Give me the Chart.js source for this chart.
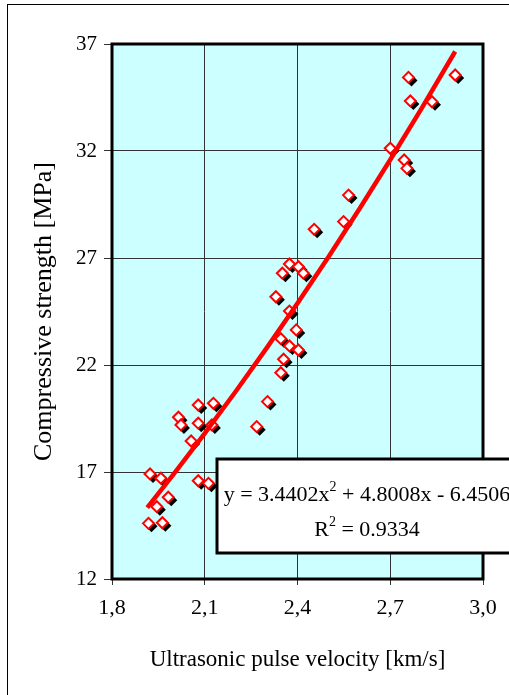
<!DOCTYPE html>
<html>
<head>
<meta charset="utf-8">
<script src="https://cdn.jsdelivr.net/npm/chart.js@4.4.0/dist/chart.umd.min.js"></script>
<style>
  html, body { margin: 0; padding: 0; background: #fff; }
  canvas { display: block; }
</style>
</head>
<body>
<canvas id="pulseChart" width="509" height="695"></canvas>
<script>
// measured samples: ultrasonic pulse velocity [km/s] / compressive strength [MPa]
const velocity = [
  2.374, 2.403, 2.419, 2.351, 2.330, 2.374, 2.396, 2.346, 2.374, 2.403, 2.355, 2.346,
  2.079, 2.128, 2.015, 2.023, 2.079, 2.123, 2.056, 1.923, 1.958, 2.079, 2.112, 1.982,
  1.945, 1.918, 1.963, 2.303, 2.268, 2.565, 2.549, 2.454, 2.759, 2.910, 2.765, 2.835,
  2.700, 2.745, 2.754
];
const strength = [
  26.72, 26.59, 26.29, 26.29, 25.19, 24.52, 23.64, 23.23, 22.89, 22.70, 22.27, 21.64,
  20.13, 20.21, 19.56, 19.20, 19.28, 19.20, 18.45, 16.91, 16.71, 16.59, 16.47, 15.82,
  15.38, 14.60, 14.63, 20.29, 19.12, 29.94, 28.70, 28.34, 35.44, 35.55, 34.34, 34.30,
  32.13, 31.58, 31.19
];

// polynomial trend line
const trendVelocity = [1.914, 2.0, 2.1, 2.2, 2.3, 2.4, 2.5, 2.6, 2.7, 2.8, 2.91];
const trendStrength = [15.34, 16.91, 18.80, 20.76, 22.79, 24.89, 27.05, 29.29, 31.59, 33.96, 36.65];

const xTicks = [1.8, 2.1, 2.4, 2.7, 3.0];
const yTicks = [12, 17, 22, 27, 32, 37];

const eqMain = 'y = 3.4402x';
const eqTail = ' + 4.8008x - 6.4506';
const r2Label = 'R';
const r2Tail = ' = 0.9334';

const serif = '"Liberation Serif", "Times New Roman", serif';

const scatterPoints = velocity.map((v, i) => ({ x: v, y: strength[i] }));
const trendPoints = trendVelocity.map((v, i) => ({ x: v, y: trendStrength[i] }));

// fond cyan de la zone de tracé + cadre extérieur
const plotBackground = {
  id: 'plotBackground',
  beforeDraw(chart) {
    const { ctx, chartArea } = chart;
    ctx.save();
    ctx.fillStyle = '#CCFFFF';
    ctx.fillRect(chartArea.left, chartArea.top, chartArea.right - chartArea.left, chartArea.bottom - chartArea.top);
    ctx.strokeStyle = '#000';
    ctx.lineWidth = 1;
    ctx.strokeRect(7.5, 4.5, 700, 900);
    ctx.restore();
  }
};

// ombre noire décalée sous chaque losange
const markerShadow = {
  id: 'markerShadow',
  beforeDatasetDraw(chart, args) {
    if (args.index !== 0) return;
    const ctx = chart.ctx;
    const r = 6;
    ctx.save();
    ctx.fillStyle = '#000';
    args.meta.data.forEach(pt => {
      const cx = pt.x + 3, cy = pt.y + 3;
      ctx.beginPath();
      ctx.moveTo(cx, cy - r);
      ctx.lineTo(cx + r, cy);
      ctx.lineTo(cx, cy + r);
      ctx.lineTo(cx - r, cy);
      ctx.closePath();
      ctx.fill();
    });
    ctx.restore();
  }
};

// cadre épais + boîte de l'équation
const frameAndEquation = {
  id: 'frameAndEquation',
  afterDraw(chart) {
    const { ctx, chartArea } = chart;
    ctx.save();
    ctx.strokeStyle = '#000';
    ctx.lineWidth = 3;
    ctx.strokeRect(chartArea.left, chartArea.top, chartArea.right - chartArea.left, chartArea.bottom - chartArea.top);

    const bx = chartArea.left + 105, by = chartArea.top + 415, bw = 300, bh = 94;
    ctx.fillStyle = '#fff';
    ctx.fillRect(bx, by, bw, bh);
    ctx.strokeRect(bx, by, bw, bh);

    const cx = bx + bw / 2;
    const big = '22px ' + serif, small = '14px ' + serif;
    ctx.fillStyle = '#000';
    ctx.textBaseline = 'alphabetic';
    ctx.textAlign = 'left';

    ctx.font = big;
    const w1 = ctx.measureText(eqMain).width, w3 = ctx.measureText(eqTail).width;
    ctx.font = small;
    const w2 = ctx.measureText('2').width;
    let x = cx - (w1 + w2 + w3) / 2;
    const y1 = by + 42;
    ctx.font = big; ctx.fillText(eqMain, x, y1); x += w1;
    ctx.font = small; ctx.fillText('2', x, y1 - 10); x += w2;
    ctx.font = big; ctx.fillText(eqTail, x, y1);

    ctx.font = big;
    const r1 = ctx.measureText(r2Label).width, r3 = ctx.measureText(r2Tail).width;
    x = cx - (r1 + w2 + r3) / 2;
    const y2 = by + 77;
    ctx.fillText(r2Label, x, y2); x += r1;
    ctx.font = small; ctx.fillText('2', x, y2 - 10); x += w2;
    ctx.font = big; ctx.fillText(r2Tail, x, y2);
    ctx.restore();
  }
};

new Chart(document.getElementById('pulseChart').getContext('2d'), {
  type: 'scatter',
  data: {
    datasets: [{
      label: 'Samples',
      data: scatterPoints,
      pointStyle: 'rectRot',
      pointRadius: 5.5,
      pointHoverRadius: 5.5,
      pointBackgroundColor: '#fff',
      pointBorderColor: '#FF0000',
      pointBorderWidth: 2,
      order: 2
    }, {
      type: 'line',
      label: 'Trend',
      data: trendPoints,
      borderColor: '#FF0000',
      borderWidth: 4.5,
      pointRadius: 0,
      tension: 0,
      fill: false,
      order: 1
    }]
  },
  options: {
    responsive: false,
    animation: false,
    layout: { padding: { top: 44, right: 26, left: 0, bottom: 0 } },
    plugins: { legend: { display: false }, tooltip: { enabled: false } },
    scales: {
      x: {
        type: 'linear',
        min: 1.8, max: 3.0,
        afterBuildTicks: s => { s.ticks = xTicks.map(v => ({ value: v })); },
        afterFit: s => { s.height = 116; },
        border: { display: false },
        grid: { color: '#333', lineWidth: 1, tickLength: 6 },
        ticks: {
          color: '#000', padding: 10,
          font: { family: serif, size: 22 },
          maxRotation: 0,
          callback: v => v.toFixed(1).replace('.', ',')
        },
        title: {
          display: true, text: 'Ultrasonic pulse velocity [km/s]',
          color: '#000', font: { family: serif, size: 23 },
          padding: { top: 0, bottom: 21 }
        }
      },
      y: {
        type: 'linear',
        min: 12, max: 37,
        afterBuildTicks: s => { s.ticks = yTicks.map(v => ({ value: v })); },
        afterFit: s => { s.width = 112; },
        border: { display: false },
        grid: { color: '#333', lineWidth: 1, tickLength: 8 },
        ticks: {
          color: '#000', padding: 7,
          font: { family: serif, size: 21 }
        },
        title: {
          display: true, text: 'Compressive strength [MPa]',
          color: '#000', font: { family: serif, size: 26 },
          padding: { top: 29, bottom: 0 }
        }
      }
    }
  },
  plugins: [plotBackground, markerShadow, frameAndEquation]
});
</script>
</body>
</html>
